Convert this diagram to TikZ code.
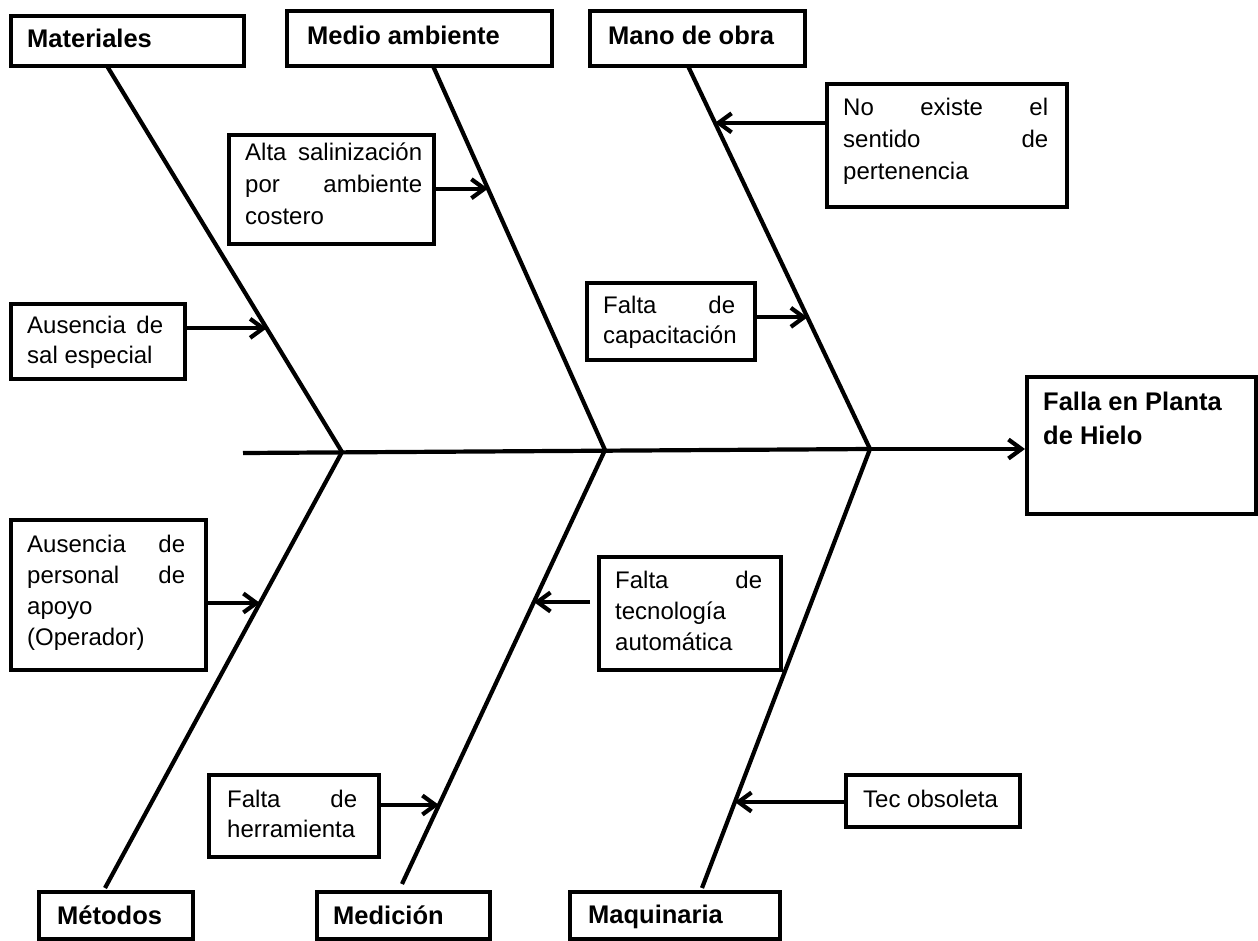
\documentclass[tikz,border=0pt]{standalone}
\usepackage{fontspec}
\setmainfont{Liberation Sans}
\usetikzlibrary{arrows.meta,calc}
% one justified row of a cause text, and one left-aligned row
\newcommand\jrow[2]{\hbox to #1pt{#2}}
\newcommand\lrow[1]{\hbox{#1}}
% stack of rows with a given line distance; the first row gives the baseline
\newcommand\cbody[2]{\vtop{\baselineskip=#1pt\relax #2}}
\begin{document}
\begin{tikzpicture}[x=1pt,y=-1pt,
  catbox/.style={draw, line width=3.6pt, rectangle, inner sep=0pt, anchor=north west},
  causebox/.style={draw, line width=3.6pt, rectangle, inner sep=0pt, anchor=north west},
  bone/.style={line width=4.2pt},
  arr/.style={line width=4.2pt, -{Straight Barb[length=13pt,width=19pt]}},
  headtext/.style={font=\bfseries\fontsize{25.5}{34}\selectfont, anchor=base west, inner sep=0pt},
  causetext/.style={font=\fontsize{24}{31}\selectfont, anchor=base west, inner sep=0pt}]
\useasboundingbox[fill=white] (0,0) rectangle (1258,940);

% ---- category boxes ----
\node[catbox, minimum width=233pt, minimum height=50pt] (mat) at (9,14) {};
\node[headtext] (matT) at (27,47) {Materiales};
\node[catbox, minimum width=265pt, minimum height=55pt] (med) at (285,9) {};
\node[headtext] (medT) at (307,44) {Medio ambiente};
\node[catbox, minimum width=215pt, minimum height=55pt] (man) at (588,9) {};
\node[headtext] (manT) at (608,44) {Mano de obra};
\node[catbox, minimum width=154pt, minimum height=47pt] (met) at (37,890) {};
\node[headtext] (metT) at (57,924) {Métodos};
\node[catbox, minimum width=173pt, minimum height=47pt] (mdc) at (315,890) {};
\node[headtext] (mdcT) at (333,924) {Medición};
\node[catbox, minimum width=210pt, minimum height=47pt] (maq) at (568,890) {};
\node[headtext] (maqT) at (588,923) {Maquinaria};

% ---- effect ----
\node[catbox, minimum width=229pt, minimum height=137pt] (eff) at (1025,375) {};
\node[headtext] (effT) at (1043,410) {\cbody{34}{\lrow{Falla en Planta}\lrow{de Hielo}}};

% ---- skeleton ----
\coordinate (S)  at (243,453);
\coordinate (J1) at (342,452);
\coordinate (J2) at (605,450);
\coordinate (J3) at (870,449);
\coordinate (T1) at (107,66);
\coordinate (T2) at (433,66);
\coordinate (T3) at (688,66);
\coordinate (B1) at (105,888);
\coordinate (B2) at (402,884);
\coordinate (B3) at (702,888);

\draw[bone] (T1) -- (J1);
\draw[bone] (T2) -- (J2);
\draw[bone] (T3) -- (J3);
\draw[bone] (J1) -- (B1);
\draw[bone] (J2) -- (B2);
\draw[bone] (J3) -- (B3);
\draw[bone] (S) -- (J3);
\draw[arr] (J3) -- (J3 -| eff.west);

% ---- causes ----
\node[causebox, minimum width=205pt, minimum height=109pt] (cA) at (227,133) {};
\node[causetext] (cAT) at (245,160) {\cbody{32}{\jrow{177}{Alta\hfill salinización}\jrow{177}{por\hfill ambiente}\lrow{costero}}};

\node[causebox, minimum width=240pt, minimum height=123pt] (cB) at (825,82) {};
\node[causetext] (cBT) at (843,115) {\cbody{32}{\jrow{205}{No\hfill existe\hfill el}\jrow{205}{sentido\hfill de}\lrow{pertenencia}}};

\node[causebox, minimum width=174pt, minimum height=75pt] (cC) at (9,302) {};
\begin{scope}
  \clip (cC.north west) rectangle ([yshift=12pt]cC.south east);
  \node[causetext] (cCT) at (27,333) {\cbody{30}{\jrow{136}{Ausencia\hfill de}\lrow{sal especial}}};
\end{scope}

\node[causebox, minimum width=168pt, minimum height=77pt] (cD) at (585,281) {};
\node[causetext] (cDT) at (603,313) {\cbody{30}{\jrow{132}{Falta\hfill de}\lrow{capacitación}}};

\node[causebox, minimum width=195pt, minimum height=150pt] (cE) at (9,518) {};
\node[causetext] (cET) at (27,552) {\cbody{31}{\jrow{158}{Ausencia\hfill de}\jrow{158}{personal\hfill de}\lrow{apoyo}\lrow{(Operador)}}};

\node[causebox, minimum width=182pt, minimum height=113pt] (cF) at (597,555) {};
\node[causetext] (cFT) at (615,588) {\cbody{31}{\jrow{147}{Falta\hfill de}\lrow{tecnología}\lrow{automática}}};

\node[causebox, minimum width=170pt, minimum height=82pt] (cG) at (207,773) {};
\node[causetext] (cGT) at (227,807) {\cbody{30}{\jrow{130}{Falta\hfill de}\lrow{herramienta}}};

\node[causebox, minimum width=174pt, minimum height=52pt] (cH) at (844,773) {};
\node[causetext] (cHT) at (863,807) {Tec obsoleta};

% ---- arrow tips on the bones ----
\coordinate (tA) at ($(T2)!0.3195!(J2)$);
\coordinate (tB) at ($(T3)!0.1484!(J3)$);
\coordinate (tC) at ($(T1)!0.6796!(J1)$);
\coordinate (tD) at ($(T3)!0.65625!(J3)$);
\coordinate (tE) at ($(J1)!0.3463!(B1)$);
\coordinate (tF) at ($(J2)!0.3502!(B2)$);
\coordinate (tG) at ($(J2)!0.818!(B2)$);
\coordinate (tH) at ($(J3)!0.8041!(B3)$);

\draw[arr] (cA.east |- tA) -- (tA);
\draw[arr] (cB.west |- tB) -- (tB);
\draw[arr] (cC.east |- tC) -- (tC);
\draw[arr] (cD.east |- tD) -- (tD);
\draw[arr] (cE.east |- tE) -- (tE);
\draw[arr] ([xshift=-7pt]cF.west |- tF) -- (tF);
\draw[arr] (cG.east |- tG) -- (tG);
\draw[arr] (cH.west |- tH) -- (tH);
\end{tikzpicture}
\end{document}
